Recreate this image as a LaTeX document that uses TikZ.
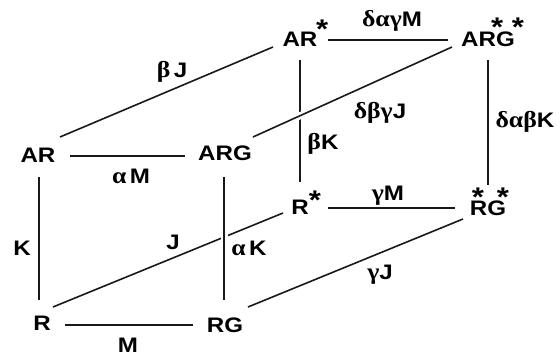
\documentclass[tikz,border=0pt]{standalone}
\usepackage{fontspec}
\setmainfont{Liberation Sans}[FakeStretch=1.15]
\newfontfamily\gk{Liberation Serif}[FakeStretch=1.12]
\newcommand{\G}[1]{{\gk\fontsize{23}{23}\selectfont #1}}
\newcommand{\sta}[2]{\rlap{\smash{\kern#1\raisebox{#2}{\makebox[0pt]{\fontsize{27}{27}\selectfont *}}}}}
\tikzset{
  vx/.style={inner sep=0pt, font=\fontsize{21}{21}\selectfont\bfseries, text height=15pt, text depth=0pt},
  lb/.style={inner sep=0pt, font=\fontsize{21}{21}\selectfont\bfseries, text height=15pt, text depth=0pt},
  edge/.style={line width=1.6pt, draw=black!90},
  over/.style={preaction={draw=white, line width=7pt}}
}
\begin{document}
\begin{tikzpicture}[x=1pt, y=-1pt]
\useasboundingbox (0,0) rectangle (560,356);
% vertices
\node[vx] (ARs)   at (300,39)  {AR\sta{4.6pt}{8.5pt}};
\node[vx] (ARGss) at (488,39)  {AR\sta{1pt}{10pt}G\sta{3pt}{10pt}};
\node[vx] (AR)    at (38,155)  {AR};
\node[vx] (ARG)   at (225,153) {ARG};
\node[vx] (Rs)    at (300,207) {R\sta{6.3pt}{5pt}};
\node[vx] (RGss)  at (488,208) {R\sta{-9.3pt}{9pt}G\sta{-3.1pt}{9pt}};
\node[vx] (R)     at (42,323)  {R};
\node[vx] (RG)    at (225,325) {RG};
% edges
\draw[edge] ([shift={(28,1)}]ARs.center) -- ([shift={(-40,1)}]ARGss.center);
\draw[edge] ([shift={(22,-18)}]AR.center) -- ([shift={(-27,8)}]ARs.center);
\draw[edge] ([shift={(32,1)}]AR.center) -- ([shift={(-40,3)}]ARG.center);
\draw[edge] ([shift={(0,21)}]ARs.center) -- ([shift={(0,-25)}]Rs.center);
\draw[edge, over] ([shift={(28,-16)}]ARG.center) -- ([shift={(-36,8)}]ARGss.center);
\draw[edge] ([shift={(0,21)}]ARGss.center) -- ([shift={(0,-23)}]RGss.center);
\draw[edge] ([shift={(1,22)}]AR.center) -- ([shift={(-3,-23)}]R.center);
\draw[edge] ([shift={(28,1)}]Rs.center) -- ([shift={(-33,0)}]RGss.center);
\draw[edge] ([shift={(11,-16)}]R.center) -- ([shift={(-17,6)}]Rs.center);
\draw[edge, over] ([shift={(-1,24)}]ARG.center) -- ([shift={(-1,-25)}]RG.center);
\draw[edge] ([shift={(23,-18)}]RG.center) -- ([shift={(-25,11)}]RGss.center);
\draw[edge] ([shift={(23,2)}]R.center) -- ([shift={(-32,0)}]RG.center);
% labels
\node[lb] (l1)  at (392,18.5)  {\G{δαγ}M};
\node[lb] (l2)  at (172,70)    {\G{β}\,J};
\node[lb] (l3)  at (380,111)   {\G{δβγ}J};
\node[lb] (l4)  at (131,175.5) {\G{α}\,M};
\node[lb] (l5)  at (323,141.5) {\G{β}K};
\node[lb] (l6)  at (525,119.5) {\G{δαβ}K};
\node[lb] (l7)  at (22,248)    {K};
\node[lb] (l8)  at (173,242)   {J};
\node[lb] (l9)  at (249,248)   {\G{α}\,K};
\node[lb] (l10) at (388,192.5) {\G{γ}M};
\node[lb] (l11) at (380,272)   {\G{γ}J};
\node[lb] (l12) at (128,345)   {M};
\end{tikzpicture}
\end{document}
